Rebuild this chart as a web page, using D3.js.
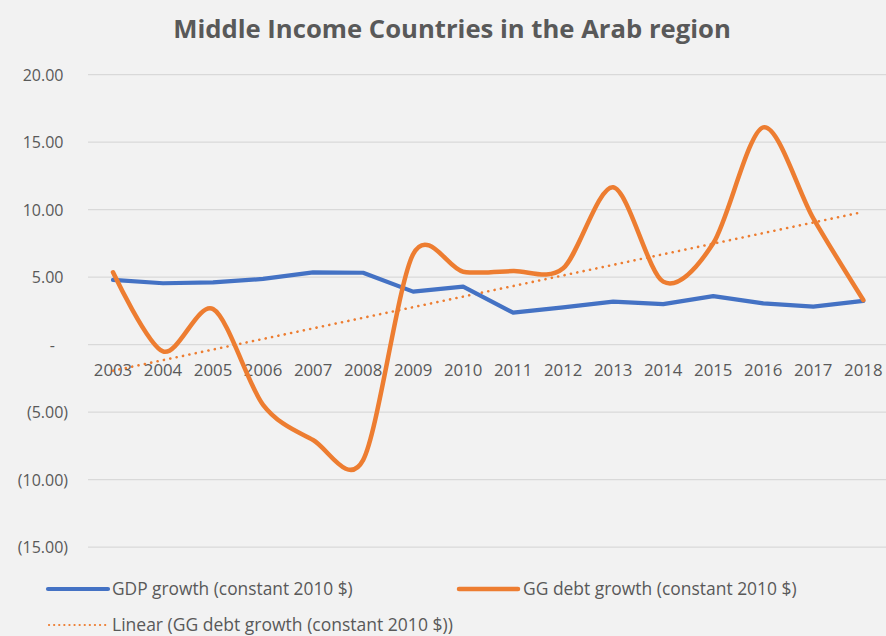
<!DOCTYPE html>
<html><head><meta charset="utf-8">
<script src="https://cdn.jsdelivr.net/npm/d3@7"></script>
<style>body{margin:0;background:#F2F2F2;}svg{display:block;}</style>
</head><body><svg id="c" width="886" height="636"></svg>
<script>
const years = ["2003","2004","2005","2006","2007","2008","2009","2010","2011","2012","2013","2014","2015","2016","2017","2018"];
const gdpGrowth = [4.80,4.55,4.62,4.87,5.36,5.33,3.93,4.30,2.37,2.77,3.19,3.01,3.60,3.06,2.82,3.24];
const debtGrowth = [5.36,-0.50,2.64,-4.45,-7.06,-8.55,6.70,5.41,5.46,5.66,11.66,4.67,7.51,16.10,9.36,3.31];
const yTicks = [20,15,10,5,0,-5,-10,-15];
const title = "Middle Income Countries in the Arab region";
const legendLabels = ["GDP growth (constant 2010 $)","GG debt growth (constant 2010 $)","Linear (GG debt growth (constant 2010 $))"];

const svg = d3.select("#c");
const FONT = "'Open Sans', 'Noto Sans', sans-serif";
const txtColor = "#595959";
svg.append("rect").attr("width",886).attr("height",636).attr("fill","#F2F2F2");

const x = d3.scalePoint().domain(years).range([113, 863.3]);
const y = d3.scaleLinear().domain([-15,20]).range([547.2, 74.7]);

function fit(sel, w){
  const n = sel.node(); let fs = parseFloat(sel.attr("font-size"));
  const l = n.getComputedTextLength(); if(l>0) sel.attr("font-size", fs*w/l);
}

// gridlines
svg.append("g").selectAll("line").data(yTicks).join("line")
  .attr("x1",88).attr("x2",886).attr("y1",d=>y(d)).attr("y2",d=>y(d))
  .attr("stroke","#D9D9D9").attr("stroke-width",1.2);

// y labels
const fmt = v => v===0 ? "-" : (v<0 ? "("+Math.abs(v).toFixed(2)+")" : v.toFixed(2));
svg.append("g").selectAll("text").data(yTicks).join("text")
  .attr("x",d=> d<0 ? 68 : (d===0 ? 55 : 63.5))
  .attr("y",d=>y(d)+6).attr("text-anchor","end")
  .attr("font-family",FONT).attr("font-size",16).attr("fill",txtColor)
  .text(fmt);

// x labels
svg.append("g").selectAll("text").data(years).join("text")
  .attr("x",d=>x(d)).attr("y",376).attr("text-anchor","middle")
  .attr("font-family",FONT).attr("font-size",16.8).attr("fill",txtColor)
  .text(d=>d);

// trend line (least squares on debt growth)
const n = debtGrowth.length, mx = (n-1)/2, my = d3.mean(debtGrowth);
let sxy=0,sxx=0; debtGrowth.forEach((v,i)=>{sxy+=(i-mx)*(v-my); sxx+=(i-mx)*(i-mx);});
const slope = sxy/sxx, icpt = my - slope*mx;
svg.append("line")
  .attr("x1",x(years[0])).attr("y1",y(icpt))
  .attr("x2",x(years[n-1])).attr("y2",y(icpt+slope*(n-1)))
  .attr("stroke","#ED7D31").attr("stroke-width",2.6)
  .attr("stroke-dasharray","0.1 6.4").attr("stroke-linecap","round");

// GDP line
svg.append("path").datum(gdpGrowth)
  .attr("d", d3.line().x((d,i)=>x(years[i])).y(d=>y(d)))
  .attr("fill","none").attr("stroke","#4472C4").attr("stroke-width",4.2)
  .attr("stroke-linejoin","round").attr("stroke-linecap","round");

// Debt line (smoothed)
svg.append("path").datum(debtGrowth)
  .attr("d", d3.line().x((d,i)=>x(years[i])).y(d=>y(d)).curve(d3.curveCardinal.tension(0.1)))
  .attr("fill","none").attr("stroke","#ED7D31").attr("stroke-width",4.5)
  .attr("stroke-linejoin","round").attr("stroke-linecap","round");

// title
const t = svg.append("text").attr("x",452).attr("y",38).attr("text-anchor","middle")
  .attr("font-family",FONT).attr("font-weight","bold").attr("font-size",24).attr("fill",txtColor).text(title);
fit(t, 558);

// legend
const lg = svg.append("g");
const items = [
  {x1:48,x2:108,y:589,tx:112,color:"#4472C4",w:4.2,dash:null,label:legendLabels[0],tw:241},
  {x1:459,x2:518,y:589,tx:523,color:"#ED7D31",w:4.5,dash:null,label:legendLabels[1],tw:274},
  {x1:49,x2:106,y:625,tx:112,color:"#ED7D31",w:2.2,dash:"0.1 5",label:legendLabels[2],tw:341}
];
items.forEach(it=>{
  lg.append("line").attr("x1",it.x1).attr("x2",it.x2).attr("y1",it.y).attr("y2",it.y)
    .attr("stroke",it.color).attr("stroke-width",it.w).attr("stroke-linecap","round")
    .attr("stroke-dasharray",it.dash);
  const tt = lg.append("text").attr("x",it.tx).attr("y",it.y+5.5).attr("font-family",FONT)
    .attr("font-size",15).attr("fill",txtColor).text(it.label);
  fit(tt, it.tw);
});
</script></body></html>
